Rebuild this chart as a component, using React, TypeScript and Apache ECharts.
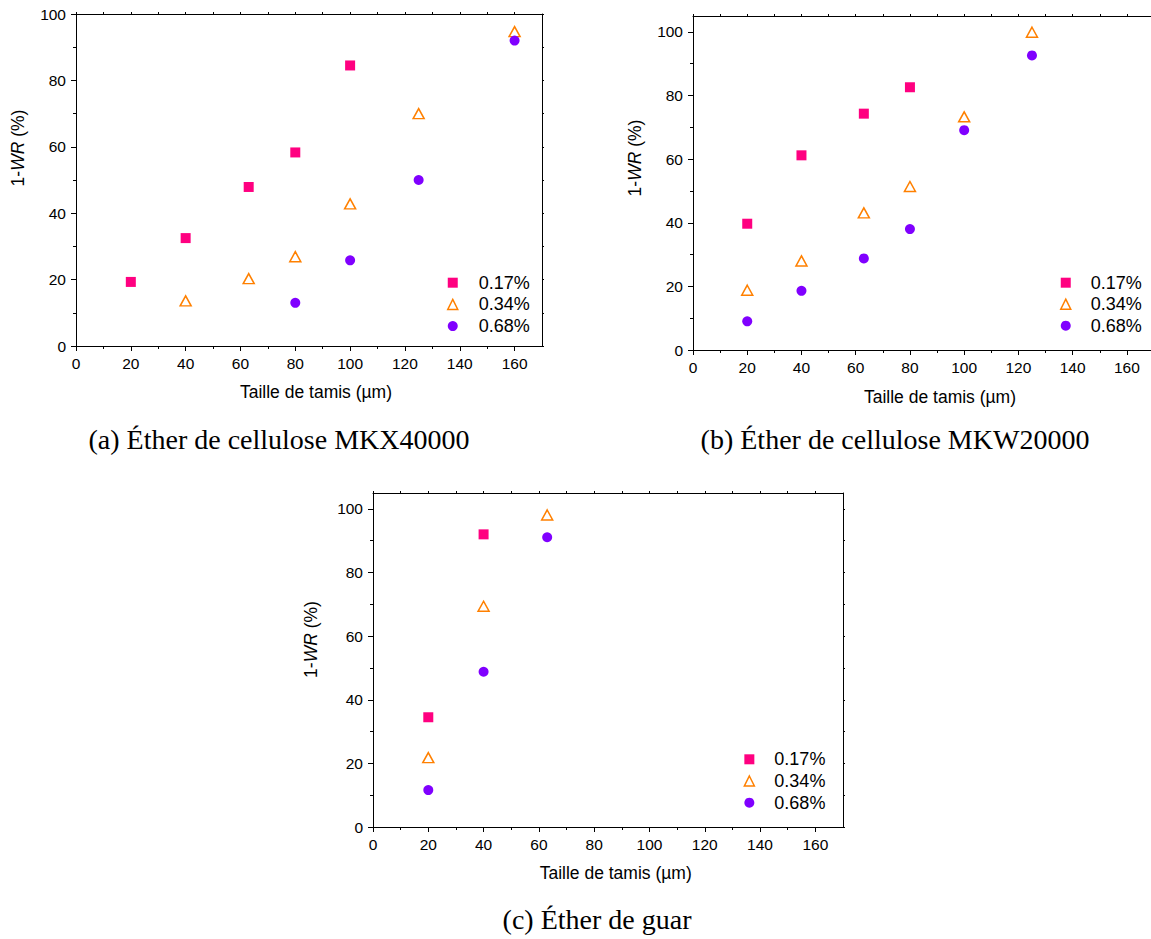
import React, { useEffect, useRef } from "react";
import * as echarts from "echarts";

// ---------- data ----------
const SERIES_NAMES = ["0.17%", "0.34%", "0.68%"];

const X_MAJOR = [0, 20, 40, 60, 80, 100, 120, 140, 160];
const X_MINOR = [10, 30, 50, 70, 90, 110, 130, 150];
const X_ALL = [0, 10, 20, 30, 40, 50, 60, 70, 80, 90, 100, 110, 120, 130, 140, 150, 160];
const Y_MAJOR = [0, 20, 40, 60, 80, 100];
const Y_MINOR = [10, 30, 50, 70, 90];
const Y_ALL = [0, 10, 20, 30, 40, 50, 60, 70, 80, 90, 100];

// (a) MKX40000
const SIZES_A17 = [20, 40, 63, 80, 100];
const WR_A17 = [19.3, 32.5, 47.9, 58.3, 84.5];
const SIZES_A34 = [40, 63, 80, 100, 125, 160];
const WR_A34 = [13.6, 20.3, 26.9, 42.8, 70.0, 94.7];
const SIZES_A68 = [80, 100, 125, 160];
const WR_A68 = [13.0, 25.8, 50.0, 92.0];

// (b) MKW20000
const SIZES_B17 = [20, 40, 63, 80];
const WR_B17 = [39.7, 61.2, 74.3, 82.6];
const SIZES_B34 = [20, 40, 63, 80, 100, 125];
const WR_B34 = [18.8, 28.0, 43.1, 51.4, 73.3, 99.9];
const SIZES_B68 = [20, 40, 63, 80, 100, 125];
const WR_B68 = [9.0, 18.6, 28.8, 38.0, 69.1, 92.6];

// (c) guar
const SIZES_C17 = [20, 40];
const WR_C17 = [34.5, 92.0];
const SIZES_C34 = [20, 40, 63];
const WR_C34 = [21.8, 69.4, 98.1];
const SIZES_C68 = [20, 40, 63];
const WR_C68 = [11.6, 48.8, 91.1];

const CAPTION_A = "(a) Éther de cellulose MKX40000";
const CAPTION_B = "(b) Éther de cellulose MKW20000";
const CAPTION_C = "(c) Éther de guar";
const X_NAME = "Taille de tamis (µm)";

// ---------- styling ----------
const SANS = '"Liberation Sans", Arial, Helvetica, sans-serif';
const SERIF = '"Liberation Serif", "Times New Roman", serif';
const PINK = "#FF0080";
const ORANGE = "#FF8000";
const PURPLE = "#8000FF";
const TICK_FONT = 15.5;
const NAME_FONT = 17.5;

const panels = [
  {
    grid: { left: 76, top: 14, width: 466, height: 332 },
    yMax: 100,
    data: [
      [SIZES_A17, WR_A17],
      [SIZES_A34, WR_A34],
      [SIZES_A68, WR_A68],
    ],
    legend: { left: 447, top: 272.7, gap: 1.7, pad: 16 },
    xName: [316, 391.7],
    yName: [18, 148],
    caption: { text: CAPTION_A, x: 279, y: 439 },
  },
  {
    grid: { left: 693, top: 16, width: 461, height: 334 },
    yMax: 105,
    data: [
      [SIZES_B17, WR_B17],
      [SIZES_B34, WR_B34],
      [SIZES_B68, WR_B68],
    ],
    legend: { left: 1060, top: 272.7, gap: 1.5, pad: 15 },
    xName: [940, 396.7],
    yName: [635, 158],
    caption: { text: CAPTION_B, x: 895, y: 439 },
  },
  {
    grid: { left: 373, top: 493, width: 470, height: 334 },
    yMax: 105,
    data: [
      [SIZES_C17, WR_C17],
      [SIZES_C34, WR_C34],
      [SIZES_C68, WR_C68],
    ],
    legend: { left: 743.6, top: 749.3, gap: 1.7, pad: 15 },
    xName: [615.7, 872.7],
    yName: [311, 639.5],
    caption: { text: CAPTION_C, x: 597, y: 919 },
  },
];

function buildOption() {
  const grid: any[] = [];
  const xAxis: any[] = [];
  const yAxis: any[] = [];
  const series: any[] = [];
  const legend: any[] = [];
  const graphic: any[] = [];

  const line = { color: "#000", width: 1 };

  panels.forEach((p, gi) => {
    grid.push({ ...p.grid, containLabel: false, outerBoundsMode: "none" });

    const xBase = { gridIndex: gi, type: "value", min: 0, max: 170, interval: 20, splitLine: { show: false } };
    xAxis.push({
      ...xBase,
      position: "bottom",
      axisLine: { show: true, onZero: false, lineStyle: line },
      axisTick: { show: true, customValues: X_MAJOR, length: 5, inside: false, lineStyle: line },
      axisLabel: { show: true, customValues: X_MAJOR, fontSize: TICK_FONT, fontFamily: SANS, color: "#000", margin: 9 },
    });
    xAxis.push({
      ...xBase,
      position: "bottom",
      axisLine: { show: false, onZero: false },
      axisTick: { show: true, customValues: X_MINOR, length: 3, inside: false, lineStyle: line },
      axisLabel: { show: false },
    });
    xAxis.push({
      ...xBase,
      position: "top",
      axisLine: { show: true, onZero: false, lineStyle: line },
      axisTick: { show: true, customValues: X_ALL, length: 2, inside: false, lineStyle: line },
      axisLabel: { show: false },
    });

    const yBase = { gridIndex: gi, type: "value", min: 0, max: p.yMax, interval: 20, splitLine: { show: false } };
    yAxis.push({
      ...yBase,
      position: "left",
      axisLine: { show: true, onZero: false, lineStyle: line },
      axisTick: { show: true, customValues: Y_MAJOR, length: 5, inside: false, lineStyle: line },
      axisLabel: { show: true, customValues: Y_MAJOR, fontSize: TICK_FONT, fontFamily: SANS, color: "#000", margin: 10 },
    });
    yAxis.push({
      ...yBase,
      position: "left",
      axisLine: { show: false, onZero: false },
      axisTick: { show: true, customValues: Y_MINOR, length: 3, inside: false, lineStyle: line },
      axisLabel: { show: false },
    });
    yAxis.push({
      ...yBase,
      position: "right",
      axisLine: { show: true, onZero: false, lineStyle: line },
      axisTick: { show: true, customValues: Y_ALL, length: 2, inside: false, lineStyle: line },
      axisLabel: { show: false },
    });

    const styles = [
      { symbol: "rect", symbolSize: 10, itemStyle: { color: PINK, opacity: 1 } },
      {
        symbol: "triangle",
        symbolSize: [11, 10],
        itemStyle: { color: "rgba(255,255,255,0)", borderColor: ORANGE, borderWidth: 1.5, opacity: 1 },
      },
      { symbol: "circle", symbolSize: 10, itemStyle: { color: PURPLE, opacity: 1 } },
    ];

    p.data.forEach(([xs, ys], k) => {
      series.push({
        type: "scatter",
        name: SERIES_NAMES[k],
        xAxisIndex: gi * 3,
        yAxisIndex: gi * 3,
        symbol: styles[k].symbol,
        symbolSize: styles[k].symbolSize,
        itemStyle: styles[k].itemStyle,
        data: (xs as number[]).map((x, i) => [x, (ys as number[])[i]]),
        emphasis: { disabled: true },
      });
    });

    legend.push({
      orient: "vertical",
      left: p.legend.left,
      top: p.legend.top,
      padding: 0,
      itemGap: p.legend.gap,
      itemWidth: 10,
      itemHeight: 10,
      selectedMode: false,
      data: [
        { name: SERIES_NAMES[0], itemStyle: { opacity: 1 } },
        {
          name: SERIES_NAMES[1],
          itemStyle: { borderWidth: 1.5, borderColor: ORANGE, color: "rgba(255,255,255,0)", opacity: 1 },
        },
        { name: SERIES_NAMES[2], itemStyle: { opacity: 1 } },
      ],
      textStyle: {
        fontSize: 18,
        fontFamily: SANS,
        color: "#000",
        lineHeight: 20,
        padding: [0, 0, 0, p.legend.pad],
      },
    });

    graphic.push({
      type: "text",
      x: p.xName[0],
      y: p.xName[1],
      style: {
        text: X_NAME,
        fontSize: NAME_FONT,
        fontFamily: SANS,
        fill: "#000",
        align: "center",
        verticalAlign: "middle",
      },
    });
    graphic.push({
      type: "text",
      x: p.yName[0],
      y: p.yName[1],
      rotation: Math.PI / 2,
      style: {
        text: "{n|1-}{i|WR}{n| (%)}",
        rich: {
          n: { fontSize: NAME_FONT, fontFamily: SANS, fill: "#000" },
          i: { fontSize: NAME_FONT, fontFamily: SANS, fontStyle: "italic", fill: "#000" },
        },
        fontSize: NAME_FONT,
        fontFamily: SANS,
        fill: "#000",
        align: "center",
        verticalAlign: "middle",
      },
    });
    graphic.push({
      type: "text",
      x: p.caption.x,
      y: p.caption.y,
      style: {
        text: p.caption.text,
        fontSize: 28,
        fontFamily: SERIF,
        fill: "#000",
        align: "center",
        verticalAlign: "middle",
      },
    });
  });

  return {
    animation: false,
    backgroundColor: "#fff",
    grid,
    xAxis,
    yAxis,
    series,
    legend,
    graphic,
  };
}

export default function App() {
  const ref = useRef<HTMLDivElement>(null);
  useEffect(() => {
    document.body.style.margin = "0";
    const chart = echarts.init(ref.current as HTMLDivElement, null, { renderer: "svg" });
    chart.setOption(buildOption() as any);
    return () => chart.dispose();
  }, []);
  return <div ref={ref} style={{ width: 1151, height: 939, background: "#fff" }} />;
}
